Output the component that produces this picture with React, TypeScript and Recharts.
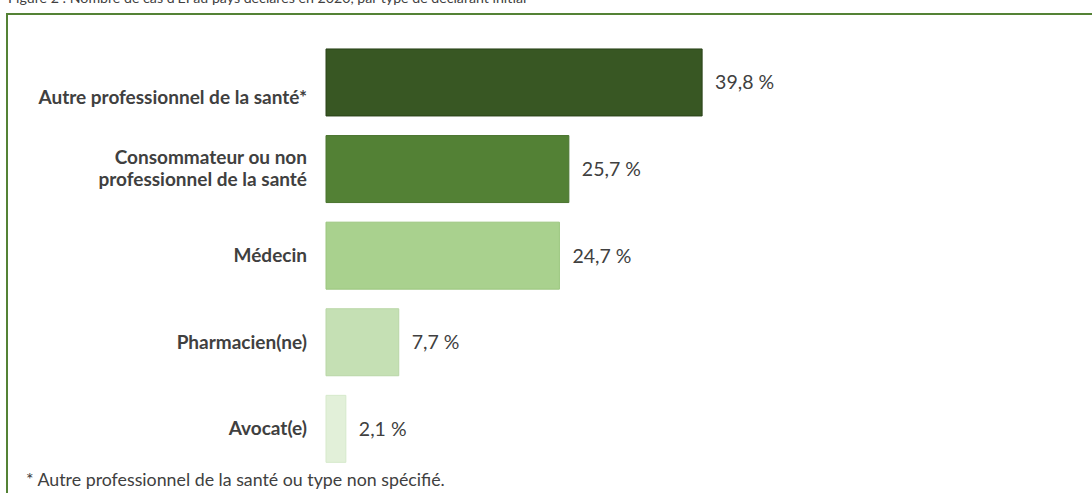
import React from "react";
import { BarChart, Bar, XAxis, YAxis, Cell, LabelList } from "recharts";

const categories = [
  "\nAutre professionnel de la santé*",
  "Consommateur ou non\nprofessionnel de la santé",
  "Médecin",
  "Pharmacien(ne)",
  "Avocat(e)",
];
const values = [39.8, 25.7, 24.7, 7.7, 2.1];
const barColors = ["#385723", "#538135", "#A9D18E", "#C5E0B4", "#E2F0D9"];
const barStrokes = ["#2a4219", "#4a742f", "#9cc67f", "#b9d6a6", "#d6e9cb"];
const titleText =
  "Figure 2 : Nombre de cas d'EI au pays déclarés en 2020, par type de déclarant initial";
const footnoteText = "* Autre professionnel de la santé ou type non spécifié.";

const data = categories.map((name, i) => ({ name, value: values[i] }));

const fmt = (v: number) => v.toFixed(1).replace(".", ",") + " %";

const TEXT = "#404040";
const FONT = "Lato, 'Open Sans', sans-serif";

function CategoryTick(props: any) {
  const { x, y, payload } = props;
  const lines = String(payload.value).split("\n");
  const lh = 22;
  const start = -((lines.length - 1) * lh) / 2;
  return (
    <text
      x={x}
      y={y}
      textAnchor="end"
      fill={TEXT}
      fontFamily={FONT}
      fontWeight={700}
      fontSize={19}
    >
      {lines.map((l, i) => (
        <tspan key={i} x={x} dy={i === 0 ? start + 6.5 : lh}>
          {l}
        </tspan>
      ))}
    </text>
  );
}

export default function App() {
  return (
    <div
      style={{
        position: "absolute",
        left: 0,
        top: 0,
        width: 1092,
        height: 493,
        overflow: "hidden",
        background: "#fff",
      }}
    >
      <div
        style={{
          position: "absolute",
          left: 8,
          top: -11,
          fontFamily: FONT,
          fontSize: 14.2,
          color: TEXT,
          whiteSpace: "nowrap",
        }}
      >
        {titleText}
      </div>
      <div
        style={{
          position: "absolute",
          left: 6,
          top: 13,
          width: 2000,
          height: 1000,
          border: "2px solid #548235",
          boxSizing: "border-box",
        }}
      />
      <div style={{ position: "absolute", left: 0, top: 0 }}>
        <BarChart
          width={1092}
          height={493}
          layout="vertical"
          data={data}
          margin={{ top: 39, right: 10, bottom: 21, left: 0 }}
          barCategoryGap="11.5%"
        >
          <XAxis type="number" domain={[0, 80]} hide />
          <YAxis
            type="category"
            dataKey="name"
            width={326}
            tickLine={false}
            axisLine={false}
            tickSize={0}
            tickMargin={19}
            interval={0}
            tick={<CategoryTick />}
          />
          <Bar dataKey="value" isAnimationActive={false}>
            {data.map((d, i) => (
              <Cell key={i} fill={barColors[i]} stroke={barStrokes[i]} strokeWidth={1} />
            ))}
            <LabelList
              dataKey="value"
              position="right"
              offset={13}
              formatter={(v: any) => fmt(Number(v))}
              fill={TEXT}
              fontFamily={FONT}
              fontSize={19.5}
            />
          </Bar>
        </BarChart>
      </div>
      <div
        style={{
          position: "absolute",
          left: 26,
          top: 468,
          fontFamily: FONT,
          fontSize: 17.8,
          color: TEXT,
          whiteSpace: "nowrap",
        }}
      >
        {footnoteText}
      </div>
    </div>
  );
}
